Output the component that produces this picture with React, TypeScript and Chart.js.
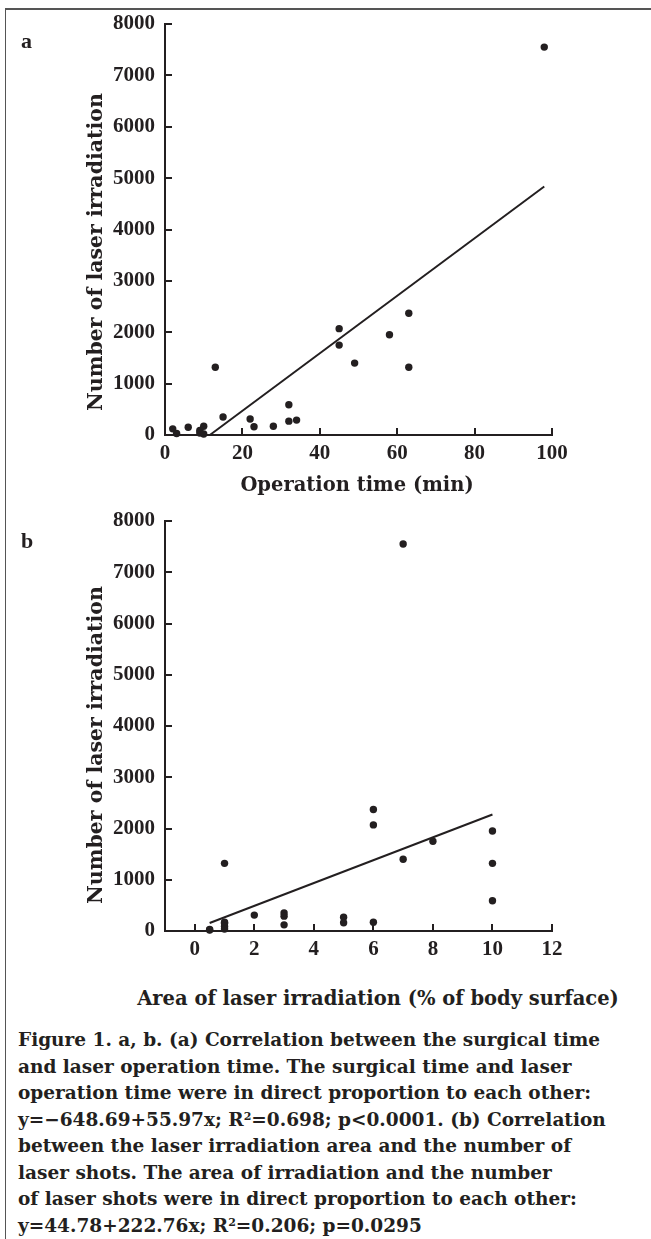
import React, { useEffect, useRef } from "react";
import { Chart, registerables } from "chart.js";

Chart.register(...registerables);

// ---- Data (panel a: operation time vs number of laser irradiation) ----
const opTimeA = [2, 3, 6, 9, 9, 10, 10, 13, 15, 22, 23, 28, 32, 32, 34, 45, 45, 49, 58, 63, 63, 98];
const shotsA = [120, 30, 150, 90, 40, 170, 20, 1320, 350, 310, 160, 170, 590, 270, 290, 2070, 1750, 1400, 1950, 2370, 1320, 7550];
const fitAX = [11.59, 98];
const fitAY = [0, 4836.37];

// ---- Data (panel b: area of irradiation vs number of laser irradiation) ----
const areaB = [0.5, 0.5, 1, 1, 1, 1, 1, 2, 3, 3, 3, 5, 5, 6, 6, 6, 7, 7, 8, 10, 10, 10];
const shotsB = [30, 20, 170, 150, 90, 40, 1320, 310, 350, 290, 120, 270, 160, 170, 2070, 2370, 1400, 7550, 1750, 1950, 1320, 590];
const fitBX = [0.5, 10];
const fitBY = [156.16, 2272.38];

// ---- Tick labels ----
const yTicks = [0, 1000, 2000, 3000, 4000, 5000, 6000, 7000, 8000];
const xTicksA = [0, 20, 40, 60, 80, 100];
const xTicksB = [0, 2, 4, 6, 8, 10, 12];

const INK = "#231f20";
const TICK_FONT = { family: "'Liberation Serif', serif", size: 21, weight: "bold" as const };

const inwardTicks = {
  id: "inwardTicks",
  afterDraw(chart: any) {
    const { ctx, chartArea, scales } = chart;
    ctx.save();
    ctx.strokeStyle = INK;
    ctx.lineWidth = 2;
    scales.y.ticks.forEach((t: any) => {
      const py = Math.round(scales.y.getPixelForValue(t.value));
      ctx.beginPath();
      ctx.moveTo(chartArea.left, py);
      ctx.lineTo(chartArea.left + 7, py);
      ctx.stroke();
    });
    scales.x.ticks.forEach((t: any) => {
      const px = Math.round(scales.x.getPixelForValue(t.value));
      ctx.beginPath();
      ctx.moveTo(px, chartArea.bottom);
      ctx.lineTo(px, chartArea.bottom - 7);
      ctx.stroke();
    });
    ctx.restore();
  },
};

function makeConfig(xs: number[], ys: number[], fx: number[], fy: number[], xMin: number, xMax: number, xTicks: number[], padTop: number) {
  return {
    type: "scatter" as const,
    data: {
      datasets: [
        {
          type: "scatter" as const,
          data: xs.map((x, i) => ({ x, y: ys[i] })),
          backgroundColor: INK,
          borderColor: INK,
          pointRadius: 3.7,
          pointHoverRadius: 3.7,
          borderWidth: 0,
          clip: false as const,
        },
        {
          type: "line" as const,
          data: fx.map((x, i) => ({ x, y: fy[i] })),
          borderColor: INK,
          borderWidth: 2,
          pointRadius: 0,
          showLine: true,
          fill: false,
          clip: false as const,
        },
      ],
    },
    options: {
      responsive: false,
      animation: false as const,
      events: [],
      layout: { padding: { left: 0, right: 99, top: padTop, bottom: 0 } },
      plugins: { legend: { display: false }, tooltip: { enabled: false } },
      scales: {
        x: {
          type: "linear" as const,
          min: xMin,
          max: xMax,
          grid: { display: true, drawOnChartArea: false, drawTicks: false },
          border: { display: true, color: INK, width: 2 },
          ticks: { color: INK, font: TICK_FONT, padding: 6, maxRotation: 0, callback: (v: any) => String(v) },
          afterBuildTicks: (s: any) => {
            s.ticks = xTicks.map((v) => ({ value: v }));
          },
          afterFit: (s: any) => {
            s.height = 35;
          },
        },
        y: {
          type: "linear" as const,
          min: 0,
          max: 8000,
          grid: { display: true, drawOnChartArea: false, drawTicks: false },
          border: { display: true, color: INK, width: 2 },
          ticks: { color: INK, font: TICK_FONT, padding: 10, callback: (v: any) => String(v) },
          afterBuildTicks: (s: any) => {
            s.ticks = yTicks.map((v) => ({ value: v }));
          },
          afterFit: (s: any) => {
            s.width = 165;
          },
        },
      },
    },
    plugins: [inwardTicks],
  };
}

function ChartCanvas(props: { top: number; height: number; config: any }) {
  const ref = useRef<HTMLCanvasElement | null>(null);
  useEffect(() => {
    if (!ref.current) return;
    const c = new Chart(ref.current, props.config);
    return () => c.destroy();
  }, []);
  return (
    <canvas
      ref={ref}
      width={651}
      height={props.height}
      style={{ position: "absolute", left: 0, top: props.top, width: 651, height: props.height, display: "block" }}
    />
  );
}

const textBase: React.CSSProperties = {
  position: "absolute",
  fontFamily: "'DejaVu Serif', serif",
  fontWeight: "bold",
  fontSize: 19.5,
  color: INK,
  whiteSpace: "nowrap",
};

export default function App() {
  const cfgA = makeConfig(opTimeA, shotsA, fitAX, fitAY, 0, 100, xTicksA, 24);
  const cfgB = makeConfig(areaB, shotsB, fitBX, fitBY, -1, 12, xTicksB, 35);
  const sup: React.CSSProperties = { fontSize: 11, lineHeight: 0, verticalAlign: "0.55em" };
  return (
    <div style={{ position: "absolute", left: 0, top: 0, width: 651, height: 1239, overflow: "hidden", background: "#fff" }}>
      <div style={{ position: "absolute", left: 5, top: 8, right: 0, bottom: 0, borderTop: "2px solid #555", borderLeft: "1px solid #555" }} />
      <ChartCanvas top={0} height={470} config={cfgA} />
      <ChartCanvas top={486} height={480} config={cfgB} />
      <div style={{ ...textBase, fontFamily: "'Liberation Serif', serif", fontSize: 22, left: 21, top: 29, lineHeight: "24px" }}>a</div>
      <div style={{ ...textBase, fontFamily: "'Liberation Serif', serif", fontSize: 22, left: 21, top: 529, lineHeight: "24px" }}>b</div>
      <div style={{ ...textBase, fontSize: 20.5, left: 95, top: 252, transform: "translate(-50%, -50%) rotate(-90deg)" }}>Number of laser irradiation</div>
      <div style={{ ...textBase, fontSize: 20.5, left: 95, top: 745, transform: "translate(-50%, -50%) rotate(-90deg)" }}>Number of laser irradiation</div>
      <div style={{ ...textBase, left: 357, top: 484, transform: "translate(-50%, -50%)" }}>Operation time (min)</div>
      <div style={{ ...textBase, left: 378, top: 998, transform: "translate(-50%, -50%)" }}>Area of laser irradiation (% of body surface)</div>
      <div style={{ ...textBase, fontSize: 18.5, left: 18, top: 1027, lineHeight: "26.5px" }}>
        <div>Figure 1. a, b. (a) Correlation between the surgical time</div>
        <div>and laser operation time. The surgical time and laser</div>
        <div>operation time were in direct proportion to each other:</div>
        <div>
          y=−648.69+55.97x; R<span style={sup}>2</span>=0.698; p&lt;0.0001. (b) Correlation
        </div>
        <div>between the laser irradiation area and the number of</div>
        <div>laser shots. The area of irradiation and the number</div>
        <div>of laser shots were in direct proportion to each other:</div>
        <div>
          y=44.78+222.76x; R<span style={sup}>2</span>=0.206; p=0.0295
        </div>
      </div>
    </div>
  );
}
